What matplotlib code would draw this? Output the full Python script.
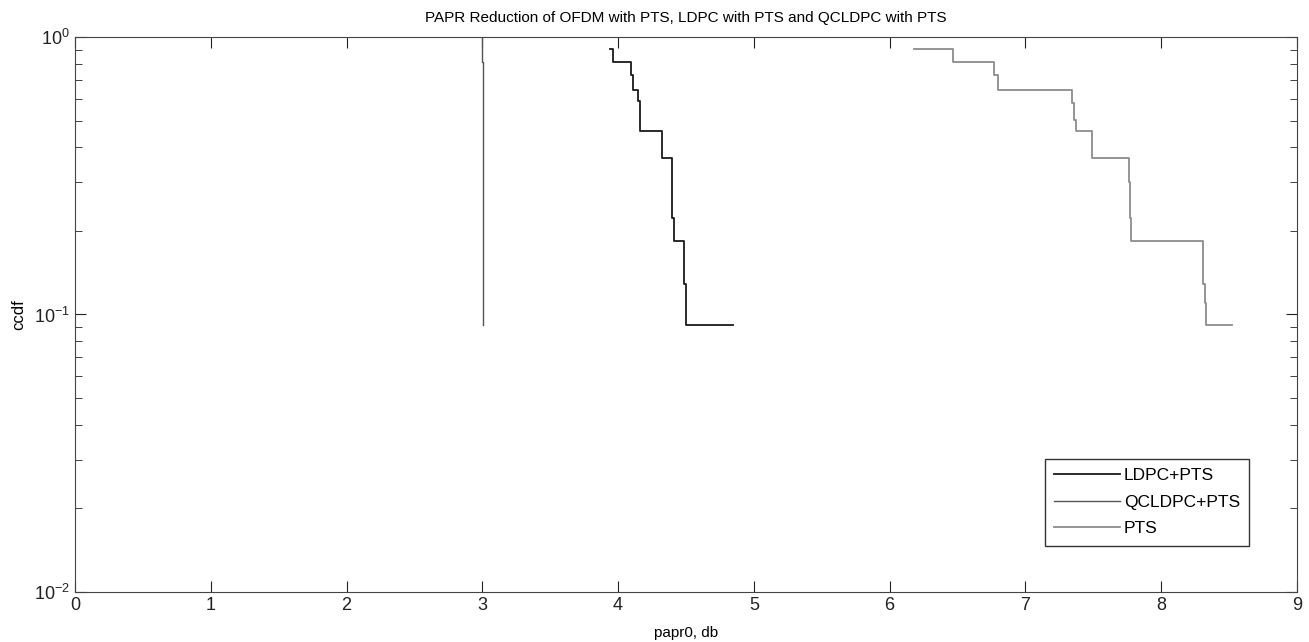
import matplotlib
matplotlib.use("Agg")
import matplotlib.pyplot as plt

# step curves (papr0 in dB, ccdf)
ldpc_x = [3.94, 3.96, 4.094, 4.107, 4.146, 4.161, 4.326, 4.396, 4.411, 4.487, 4.497, 4.848]
ldpc_y = [0.905, 0.813, 0.730, 0.644, 0.588, 0.458, 0.367, 0.223, 0.184, 0.129, 0.0917, 0.0917]

qcldpc_x = [3.0, 3.0, 3.005, 3.005]
qcldpc_y = [1.05, 0.81, 0.81, 0.0917]

pts_x = [6.178, 6.463, 6.77, 6.799, 7.34, 7.36, 7.371, 7.489, 7.762, 7.77, 7.778, 8.31, 8.32, 8.33, 8.52]
pts_y = [0.905, 0.813, 0.730, 0.644, 0.579, 0.502, 0.458, 0.367, 0.30, 0.223, 0.184, 0.129, 0.11, 0.0917, 0.0917]

labels = ["LDPC+PTS", "QCLDPC+PTS", "PTS"]
colors = ["#1a1a1a", "#555555", "#8c8c8c"]

plt.rcParams['font.family'] = ['Liberation Sans', 'DejaVu Sans']
plt.rcParams['axes.unicode_minus'] = False

fig = plt.figure(figsize=(13.09, 6.42), dpi=100)
ax = fig.add_axes([0.0573, 0.0779, 0.9335, 0.8645])

ax.plot(ldpc_x, ldpc_y, drawstyle='steps-post', color=colors[0], lw=1.3, label=labels[0])
ax.plot(qcldpc_x, qcldpc_y, drawstyle='steps-post', color=colors[1], lw=1.0, label=labels[1])
ax.plot(pts_x, pts_y, drawstyle='steps-post', color=colors[2], lw=1.3, label=labels[2])

ax.set_yscale('log')
ax.set_xlim(0, 9)
ax.set_ylim(1e-2, 1)
ax.set_xticks(range(10))
ax.tick_params(which='both', direction='in', top=True, right=True, labelsize=13, colors='#222222')
ax.tick_params(which='major', length=8)
ax.tick_params(which='minor', length=5)
for s in ax.spines.values():
    s.set_color('#444444')

ax.set_title("PAPR Reduction of OFDM with PTS, LDPC with PTS and QCLDPC with PTS", fontsize=11, pad=11)
ax.set_xlabel("papr0, db", fontsize=11, labelpad=9)
ax.set_ylabel("ccdf", fontsize=12, labelpad=6)

leg = ax.legend(loc='lower right', bbox_to_anchor=(0.961, 0.083),
                fontsize=12.5, frameon=True, fancybox=False, handlelength=3.8, borderpad=0.55,
                labelspacing=0.65, handletextpad=0.2, borderaxespad=0)
leg.get_frame().set_edgecolor('black')
leg.get_frame().set_linewidth(1.0)

fig.savefig("out.png", dpi=100)
